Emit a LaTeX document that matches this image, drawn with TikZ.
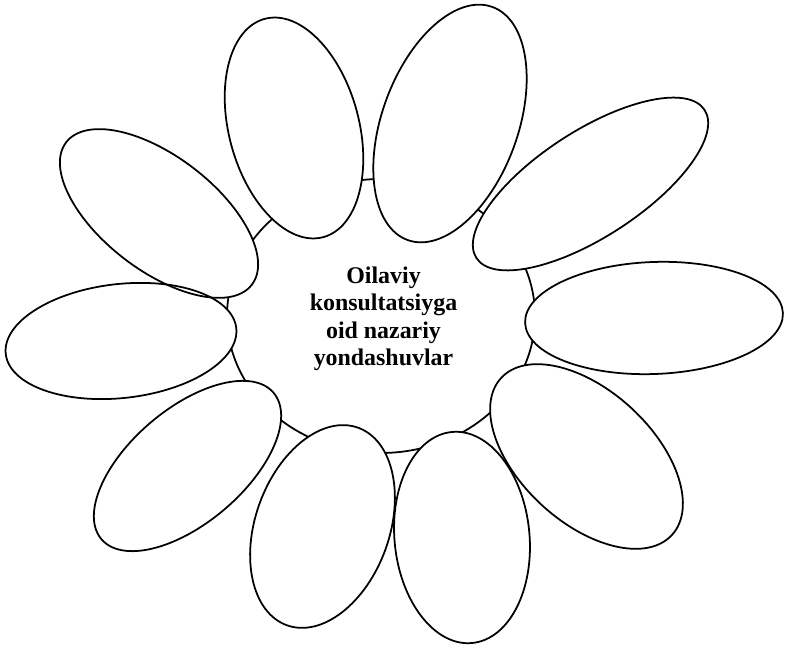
\documentclass[tikz,border=0pt]{standalone}
\usepackage{fontspec}
\setmainfont{Liberation Serif}
\begin{document}
\begin{tikzpicture}[x=0.03cm,y=0.03cm,
  outline/.style={line width=1.5pt, draw=black},
  petalfill/.style={fill=white},
  title/.style={align=center, inner sep=0pt, font=\bfseries\fontsize{20.4pt}{23.3pt}\selectfont}]
\useasboundingbox (0,0) rectangle (786,646);
% central disc
\draw[outline] (381,330) ellipse [x radius=154, y radius=137];
% petals: centre x / centre y / major radius / minor radius / rotation
\def\petals{294/518/113/65/105, 450/522.5/124/68/70, 590.5/462/136/53/33,
  654/328/129/56/2.2, 586.5/189.5/116/66/-42.6, 462/108.5/106/67.5/95.5,
  322.5/119.5/105/67/70.2, 187.5/180/113/57/40.4, 121/305/116/57/6.4,
  159/432.5/117/57/-37.5}
\foreach \x/\y/\a/\b/\r in \petals {
  \path[petalfill, rotate around={\r:(\x,\y)}] (\x,\y) ellipse [x radius=\a, y radius=\b];
}
\foreach \x/\y/\a/\b/\r in \petals {
  \draw[outline, rotate around={\r:(\x,\y)}] (\x,\y) ellipse [x radius=\a, y radius=\b];
}
\node[title] (core) at (383.5,327.3) {Oilaviy\\konsultatsiyga\\oid nazariy\\yondashuvlar};
\end{tikzpicture}
\end{document}
